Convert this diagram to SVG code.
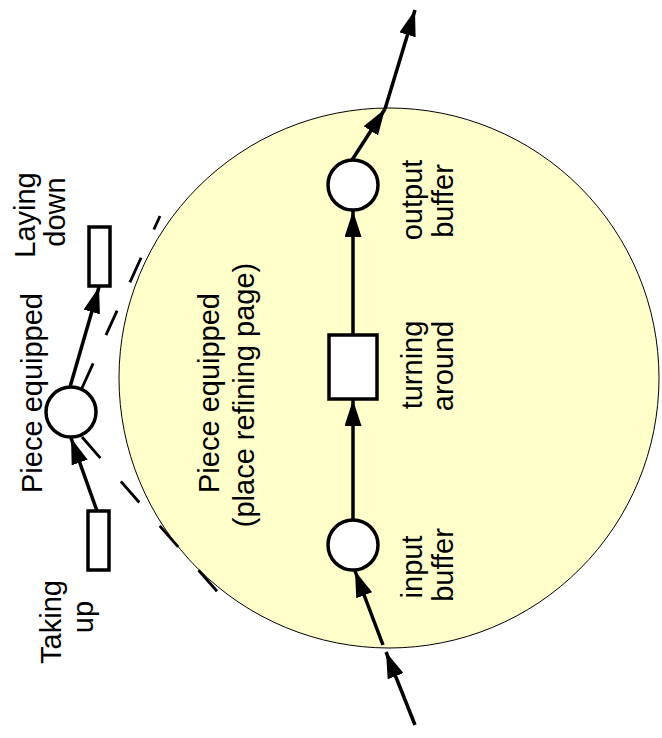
<svg xmlns="http://www.w3.org/2000/svg" width="662" height="738" viewBox="0 0 662 738">
  <defs>
    <marker id="arr" markerUnits="userSpaceOnUse" markerWidth="26" markerHeight="17" refX="26" refY="8.5" orient="auto">
      <path d="M0,0 L26,8.5 L0,17 z" fill="#000"/>
    </marker>
    <style>
      .lbl { font-family: "Liberation Sans", Arial, sans-serif; font-size: 29px; fill: #000; text-anchor: middle; }
      .node { fill: #fff; stroke: #000; stroke-width: 3.5; }
      .arc { fill: none; stroke: #000; stroke-width: 3.5; marker-end: url(#arr); }
      .dash { fill: none; stroke: #000; stroke-width: 2.8; }
    </style>
  </defs>

  <rect x="0" y="0" width="662" height="738" fill="#fff"/>

  <g id="page">
    <circle cx="389" cy="378" r="270" fill="#ffffcc" stroke="#000" stroke-width="1"/>
    <text class="lbl" transform="translate(219,393) rotate(-90)">Piece equipped</text>
    <text class="lbl" transform="translate(254,395) rotate(-90)">(place refining page)</text>
  </g>

  <g id="dashes">
    <line class="dash" x1="82" y1="388" x2="160" y2="216" stroke-dasharray="27 31"/>
    <line class="dash" x1="82" y1="437" x2="222" y2="597" stroke-dasharray="28 31"/>
  </g>

  <g id="connectors">
    <line class="arc" x1="353" y1="520" x2="353" y2="400"/>
    <line class="arc" x1="353" y1="335" x2="353" y2="211"/>
    <line class="arc" x1="352" y1="160" x2="385" y2="109"/>
    <line class="arc" x1="385" y1="109" x2="415" y2="10"/>
    <line class="arc" x1="415" y1="725" x2="386" y2="652"/>
    <line class="arc" x1="383" y1="645" x2="355" y2="571"/>
    <line class="arc" x1="97" y1="511" x2="71" y2="438"/>
    <line class="arc" x1="70" y1="387" x2="99" y2="287"/>
  </g>

  <g id="output-buffer">
    <circle class="node" cx="353" cy="185" r="25"/>
    <text class="lbl" transform="translate(422,200) rotate(-90)">output</text>
    <text class="lbl" transform="translate(453,201) rotate(-90)">buffer</text>
  </g>

  <g id="turning-around">
    <rect class="node" x="329" y="335" width="48" height="64"/>
    <text class="lbl" transform="translate(422,365) rotate(-90)">turning</text>
    <text class="lbl" transform="translate(453,366) rotate(-90)">around</text>
  </g>

  <g id="input-buffer">
    <circle class="node" cx="353" cy="545" r="25"/>
    <text class="lbl" transform="translate(422,567) rotate(-90)">input</text>
    <text class="lbl" transform="translate(453,565) rotate(-90)">buffer</text>
  </g>

  <g id="piece-equipped">
    <circle class="node" cx="71" cy="412" r="25"/>
    <text class="lbl" transform="translate(42,393) rotate(-90)">Piece equipped</text>
  </g>

  <g id="laying-down">
    <rect class="node" x="89" y="227" width="21" height="59"/>
    <text class="lbl" transform="translate(35,215) rotate(-90)">Laying</text>
    <text class="lbl" transform="translate(65,212) rotate(-90)">down</text>
  </g>

  <g id="taking-up">
    <rect class="node" x="88" y="511" width="21" height="59"/>
    <text class="lbl" transform="translate(61,622) rotate(-90)">Taking</text>
    <text class="lbl" transform="translate(93,617) rotate(-90)">up</text>
  </g>
</svg>
